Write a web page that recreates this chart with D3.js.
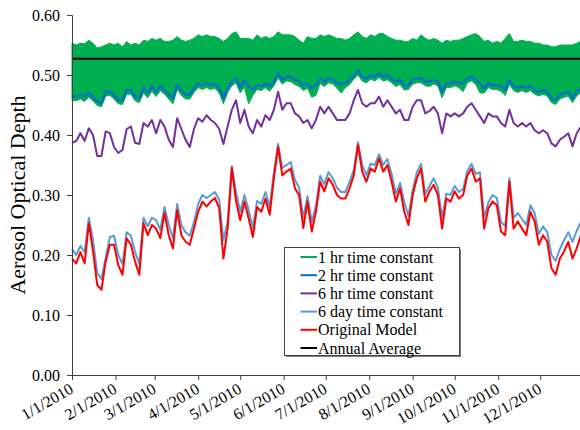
<!DOCTYPE html>
<html>
<head>
<meta charset="utf-8">
<script src="https://cdn.jsdelivr.net/npm/d3@7"></script>
<style>
body { margin: 0; background: #fff; }
text { font-family: "Liberation Serif", "Times New Roman", serif; }
</style>
</head>
<body>
<div id="chart"></div>
<script>
// sample days (every 3rd day of 2010)
var days = d3.range(0, 364, 3);

var monthLabels = ["1/1/2010", "2/1/2010", "3/1/2010", "4/1/2010", "5/1/2010", "6/1/2010",
	"7/1/2010", "8/1/2010", "9/1/2010", "10/1/2010", "11/1/2010", "12/1/2010"];
var yTicks = [0, 0.1, 0.2, 0.3, 0.4, 0.5, 0.6];

// 1 hr time constant: swings too fast to see, so kept as its upper / lower envelope
var greenHigh = [
	0.553, 0.550, 0.553, 0.552, 0.558, 0.553, 0.545, 0.547, 0.550, 0.553,
	0.550, 0.553, 0.547, 0.556, 0.550, 0.553, 0.550, 0.558, 0.556, 0.561,
	0.558, 0.561, 0.556, 0.556, 0.558, 0.564, 0.558, 0.556, 0.558, 0.561,
	0.567, 0.564, 0.567, 0.564, 0.564, 0.561, 0.556, 0.561, 0.569, 0.572,
	0.561, 0.561, 0.561, 0.558, 0.567, 0.561, 0.564, 0.561, 0.564, 0.572,
	0.567, 0.567, 0.567, 0.564, 0.558, 0.553, 0.564, 0.561, 0.561, 0.567,
	0.564, 0.567, 0.564, 0.561, 0.561, 0.558, 0.561, 0.567, 0.572, 0.564,
	0.561, 0.567, 0.564, 0.569, 0.569, 0.564, 0.561, 0.558, 0.558, 0.556,
	0.556, 0.561, 0.558, 0.567, 0.561, 0.558, 0.561, 0.558, 0.553, 0.558,
	0.556, 0.558, 0.558, 0.561, 0.564, 0.567, 0.569, 0.564, 0.556, 0.558,
	0.553, 0.556, 0.553, 0.561, 0.569, 0.556, 0.556, 0.558, 0.556, 0.556,
	0.553, 0.553, 0.550, 0.550, 0.547, 0.547, 0.550, 0.550, 0.550, 0.550,
	0.553, 0.556
];
var greenLow = [
	0.458, 0.457, 0.460, 0.456, 0.463, 0.457, 0.449, 0.447, 0.465, 0.466,
	0.460, 0.452, 0.451, 0.468, 0.468, 0.457, 0.454, 0.470, 0.462, 0.473,
	0.464, 0.474, 0.468, 0.460, 0.452, 0.476, 0.466, 0.460, 0.460, 0.471,
	0.479, 0.476, 0.479, 0.476, 0.478, 0.470, 0.452, 0.471, 0.482, 0.487,
	0.470, 0.480, 0.452, 0.466, 0.476, 0.474, 0.479, 0.473, 0.482, 0.495,
	0.485, 0.490, 0.489, 0.484, 0.481, 0.474, 0.478, 0.463, 0.466, 0.486,
	0.481, 0.487, 0.485, 0.478, 0.470, 0.479, 0.484, 0.493, 0.500, 0.490,
	0.487, 0.493, 0.490, 0.496, 0.490, 0.492, 0.487, 0.481, 0.484, 0.475,
	0.476, 0.485, 0.487, 0.487, 0.482, 0.481, 0.485, 0.482, 0.462, 0.479,
	0.479, 0.482, 0.479, 0.472, 0.487, 0.490, 0.484, 0.470, 0.470, 0.479,
	0.476, 0.476, 0.473, 0.466, 0.484, 0.474, 0.471, 0.474, 0.471, 0.474,
	0.468, 0.465, 0.468, 0.465, 0.454, 0.451, 0.460, 0.463, 0.465, 0.454,
	0.465, 0.471
];
var twoHr = [
	0.464, 0.464, 0.467, 0.464, 0.470, 0.464, 0.456, 0.453, 0.472, 0.472,
	0.467, 0.458, 0.458, 0.475, 0.475, 0.464, 0.461, 0.478, 0.470, 0.481,
	0.472, 0.481, 0.475, 0.467, 0.461, 0.483, 0.475, 0.467, 0.467, 0.478,
	0.486, 0.483, 0.486, 0.483, 0.486, 0.478, 0.461, 0.478, 0.489, 0.494,
	0.478, 0.492, 0.481, 0.475, 0.483, 0.481, 0.486, 0.481, 0.489, 0.503,
	0.492, 0.497, 0.497, 0.492, 0.489, 0.483, 0.486, 0.478, 0.483, 0.494,
	0.489, 0.494, 0.492, 0.486, 0.486, 0.486, 0.492, 0.500, 0.508, 0.497,
	0.494, 0.500, 0.497, 0.503, 0.497, 0.500, 0.494, 0.489, 0.492, 0.483,
	0.483, 0.492, 0.494, 0.494, 0.489, 0.489, 0.492, 0.489, 0.472, 0.486,
	0.486, 0.489, 0.486, 0.486, 0.494, 0.497, 0.492, 0.486, 0.478, 0.486,
	0.483, 0.483, 0.481, 0.475, 0.492, 0.481, 0.478, 0.481, 0.478, 0.481,
	0.475, 0.472, 0.475, 0.472, 0.461, 0.458, 0.467, 0.470, 0.472, 0.461,
	0.472, 0.478
];
var sixHr = [
	0.387, 0.390, 0.403, 0.390, 0.411, 0.400, 0.365, 0.365, 0.406, 0.403,
	0.380, 0.370, 0.375, 0.410, 0.414, 0.387, 0.385, 0.420, 0.414, 0.425,
	0.403, 0.425, 0.414, 0.392, 0.380, 0.428, 0.410, 0.392, 0.380, 0.410,
	0.428, 0.422, 0.433, 0.425, 0.420, 0.410, 0.385, 0.414, 0.442, 0.458,
	0.420, 0.442, 0.414, 0.403, 0.425, 0.414, 0.433, 0.425, 0.442, 0.472,
	0.442, 0.453, 0.453, 0.436, 0.431, 0.420, 0.425, 0.411, 0.425, 0.447,
	0.436, 0.447, 0.436, 0.425, 0.425, 0.425, 0.436, 0.458, 0.475, 0.453,
	0.447, 0.453, 0.453, 0.464, 0.447, 0.458, 0.447, 0.436, 0.442, 0.425,
	0.425, 0.447, 0.458, 0.458, 0.436, 0.440, 0.447, 0.436, 0.403, 0.436,
	0.431, 0.436, 0.431, 0.436, 0.447, 0.453, 0.442, 0.431, 0.420, 0.436,
	0.431, 0.431, 0.420, 0.414, 0.442, 0.420, 0.414, 0.420, 0.414, 0.420,
	0.408, 0.403, 0.408, 0.403, 0.386, 0.381, 0.392, 0.397, 0.403, 0.381,
	0.403, 0.414
];
var sixDay = [
	0.210, 0.200, 0.215, 0.205, 0.262, 0.225, 0.170, 0.160, 0.195, 0.230,
	0.232, 0.200, 0.185, 0.238, 0.232, 0.205, 0.185, 0.262, 0.248, 0.262,
	0.258, 0.242, 0.280, 0.250, 0.228, 0.285, 0.250, 0.238, 0.232, 0.255,
	0.285, 0.300, 0.295, 0.300, 0.305, 0.292, 0.225, 0.255, 0.348, 0.305,
	0.272, 0.300, 0.275, 0.245, 0.290, 0.285, 0.305, 0.280, 0.338, 0.385,
	0.345, 0.350, 0.355, 0.325, 0.312, 0.262, 0.298, 0.255, 0.282, 0.332,
	0.318, 0.338, 0.328, 0.312, 0.305, 0.305, 0.322, 0.342, 0.388, 0.350,
	0.333, 0.352, 0.350, 0.368, 0.350, 0.360, 0.335, 0.302, 0.320, 0.288,
	0.265, 0.308, 0.338, 0.352, 0.302, 0.315, 0.328, 0.312, 0.262, 0.302,
	0.300, 0.315, 0.305, 0.310, 0.340, 0.352, 0.335, 0.338, 0.262, 0.288,
	0.300, 0.295, 0.255, 0.248, 0.328, 0.262, 0.270, 0.260, 0.250, 0.283,
	0.270, 0.235, 0.248, 0.238, 0.200, 0.190, 0.210, 0.225, 0.238, 0.222,
	0.240, 0.255
];
var original = [
	0.194, 0.186, 0.205, 0.186, 0.253, 0.206, 0.150, 0.142, 0.189, 0.217,
	0.217, 0.183, 0.167, 0.228, 0.217, 0.189, 0.167, 0.253, 0.233, 0.250,
	0.244, 0.228, 0.270, 0.233, 0.211, 0.275, 0.233, 0.222, 0.217, 0.244,
	0.272, 0.289, 0.281, 0.289, 0.295, 0.278, 0.194, 0.244, 0.345, 0.290,
	0.258, 0.289, 0.261, 0.230, 0.280, 0.272, 0.294, 0.267, 0.328, 0.380,
	0.333, 0.339, 0.344, 0.311, 0.300, 0.245, 0.289, 0.239, 0.272, 0.322,
	0.306, 0.328, 0.317, 0.300, 0.294, 0.294, 0.311, 0.333, 0.383, 0.339,
	0.322, 0.344, 0.339, 0.361, 0.339, 0.350, 0.322, 0.289, 0.311, 0.272,
	0.250, 0.300, 0.328, 0.344, 0.289, 0.306, 0.317, 0.300, 0.244, 0.294,
	0.289, 0.306, 0.294, 0.300, 0.333, 0.344, 0.322, 0.328, 0.244, 0.278,
	0.289, 0.283, 0.239, 0.233, 0.322, 0.244, 0.256, 0.244, 0.233, 0.272,
	0.256, 0.217, 0.233, 0.222, 0.178, 0.167, 0.194, 0.206, 0.222, 0.194,
	0.211, 0.233
];
var annualAverage = 0.527;

var legendNames = ["1 hr time constant", "2 hr time constant", "6 hr time constant",
	"6 day time constant", "Original Model", "Annual Average"];
var colors = ["#00b050", "#0070c0", "#7030a0", "#5b9bd5", "#ff0000", "#000000"];

var W = 580, H = 430;
var svg = d3.select("#chart").append("svg")
	.attr("width", W)
	.attr("height", H);

var start = new Date(2010, 0, 1), end = new Date(2011, 0, 1);
var x = d3.scaleTime().domain([start, end]).range([72, 583.7]);
var y = d3.scaleLinear().domain([0, 0.6]).range([375, 15]);

var dates = days.map(function (d) { return new Date(2010, 0, 1 + d); });

// green band
var band = d3.area()
	.x(function (d, i) { return x(dates[i]); })
	.y0(function (d, i) { return y(greenLow[i]); })
	.y1(function (d, i) { return y(greenHigh[i]); });
svg.append("path")
	.datum(greenHigh)
	.attr("d", band)
	.attr("fill", colors[0])
	.attr("stroke", colors[0])
	.attr("stroke-width", 1);

var line = d3.line()
	.x(function (d, i) { return x(dates[i]); })
	.y(function (d) { return y(d); });

var series = [twoHr, sixHr, sixDay, original];
series.forEach(function (s, j) {
	svg.append("path")
		.datum(s)
		.attr("d", line)
		.attr("fill", "none")
		.attr("stroke", colors[j + 1])
		.attr("stroke-width", j == 0 ? 2.5 : 2)
		.attr("stroke-linejoin", "round");
});

svg.append("line")
	.attr("x1", x(start)).attr("x2", x(end))
	.attr("y1", y(annualAverage)).attr("y2", y(annualAverage))
	.attr("stroke", "#000")
	.attr("stroke-width", 2);

// axes
var parse = d3.timeParse("%m/%d/%Y");
var monthDates = monthLabels.map(parse);

var yAxis = svg.append("g")
	.attr("transform", "translate(72,0)")
	.call(d3.axisLeft(y).tickValues(yTicks).tickFormat(d3.format(".2f")).tickSize(5).tickPadding(7));
yAxis.selectAll("text").attr("font-size", 16).attr("fill", "#000")
	.style("font-family", '"Liberation Serif", serif');
yAxis.selectAll("path, line").attr("stroke", "#404040");

var xAxis = svg.append("g")
	.attr("transform", "translate(0,375)")
	.call(d3.axisBottom(x).tickValues(monthDates).tickFormat(function (d, i) { return monthLabels[i]; }).tickSize(5).tickSizeOuter(0));
xAxis.selectAll("path, line").attr("stroke", "#404040");
xAxis.selectAll("text")
	.attr("font-size", 16)
	.attr("fill", "#000")
	.style("font-family", '"Liberation Serif", serif')
	.attr("text-anchor", "end")
	.attr("x", 0)
	.attr("y", 0)
	.attr("dy", null)
	.attr("transform", "translate(2,17) rotate(-30)");

svg.append("text")
	.attr("transform", "translate(25,195) rotate(-90)")
	.attr("text-anchor", "middle")
	.attr("font-size", 22)
	.text("Aerosol Optical Depth");

// legend
var lg = svg.append("g");
lg.append("rect")
	.attr("x", 286).attr("y", 249)
	.attr("width", 175).attr("height", 108)
	.attr("fill", "#7f7f7f");
lg.append("rect")
	.attr("x", 284.5).attr("y", 247.5)
	.attr("width", 175).attr("height", 108)
	.attr("fill", "#fff")
	.attr("stroke", "#404040")
	.attr("stroke-width", 1);
legendNames.forEach(function (name, i) {
	var ly = 257 + i * 18.2;
	lg.append("line")
		.attr("x1", 300.5).attr("x2", 317)
		.attr("y1", ly).attr("y2", ly)
		.attr("stroke", colors[i])
		.attr("stroke-width", 2);
	lg.append("text")
		.attr("x", 318).attr("y", ly + 5.5)
		.attr("font-size", 16)
		.text(name);
});
</script>
</body>
</html>
